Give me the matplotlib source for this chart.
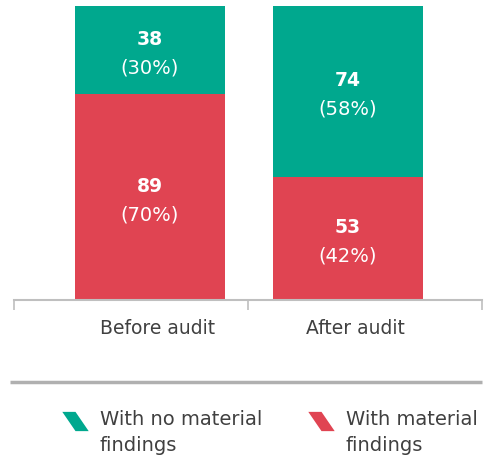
import matplotlib.pyplot as plt

# data
categories = ["Before audit", "After audit"]
no_findings = [38, 74]
with_findings = [89, 53]
pct_no = [30, 58]
pct_with = [70, 42]
legend_labels = ["With no material\nfindings", "With material\nfindings"]

teal = "#00A88E"
red = "#E04452"
grey_line = "#BFBFBF"
text_col = "#404040"

plt.rcParams['font.family'] = ['DejaVu Sans']

W, H = 485, 460
fig = plt.figure(figsize=(W / 100, H / 100), dpi=100)

# axes placed in pixel terms: x 14..482, y 7..301 (top-down)
ax = fig.add_axes([14 / W, (H - 301) / H, 468 / W, 294 / H])

x = [0, 1]
totals = [a + b for a, b in zip(no_findings, with_findings)]
ax.bar(x, with_findings, width=0.758, color=red)
ax.bar(x, no_findings, bottom=with_findings, width=0.758, color=teal)


def seg_label(xi, yc, value, pct):
    ax.annotate(str(value), (xi, yc), xytext=(0, 8.6), textcoords='offset points',
                ha='center', va='center', color='white', fontsize=13.5,
                fontweight='bold')
    ax.annotate(f"({pct}%)", (xi, yc), xytext=(0, -11.9), textcoords='offset points',
                ha='center', va='center', color='white', fontsize=14)


for i in range(len(x)):
    seg_label(x[i], with_findings[i] / 2, with_findings[i], pct_with[i])
    seg_label(x[i], with_findings[i] + no_findings[i] / 2, no_findings[i], pct_no[i])

ax.set_xlim(-0.687, 1.677)
ax.set_ylim(0, max(totals))
for s in ['top', 'left', 'right']:
    ax.spines[s].set_visible(False)
ax.spines['bottom'].set_color(grey_line)
ax.spines['bottom'].set_linewidth(1.5)
ax.set_yticks([])
ax.set_xticks([-0.687, 0.495, 1.677])
ax.set_xticklabels([])
ax.tick_params(axis='x', length=7, width=1.2, color=grey_line)

for i, c in enumerate(categories):
    ax.text(x[i] + 0.04, -0.095, c, transform=ax.get_xaxis_transform(),
            ha='center', va='center', fontsize=13.5, color=text_col)

# overlay in figure pixels for separator line and legend
ov = fig.add_axes([0, 0, 1, 1], facecolor='none')
ov.set_xlim(0, W)
ov.set_ylim(H, 0)
ov.axis('off')

ov.plot([10, 482], [383, 383], color="#B0B0B0", linewidth=2.5,
        solid_capstyle='butt')

# legend with slanted swatches
para = [(-1, 0.73), (0, 0.73), (1, -0.73), (0, -0.73), (-1, 0.73)]
legend_colors = [teal, red]
swatch_x = [75, 321]
for sx, col, lab in zip(swatch_x, legend_colors, legend_labels):
    ov.plot([sx], [422], linestyle='none', marker=para, markersize=19,
            markerfacecolor=col, markeredgecolor='none')
    ov.text(sx + 25, 410, lab, ha='left', va='top', fontsize=14,
            color=text_col, linespacing=1.45)

fig.savefig("out.png", dpi=100)
